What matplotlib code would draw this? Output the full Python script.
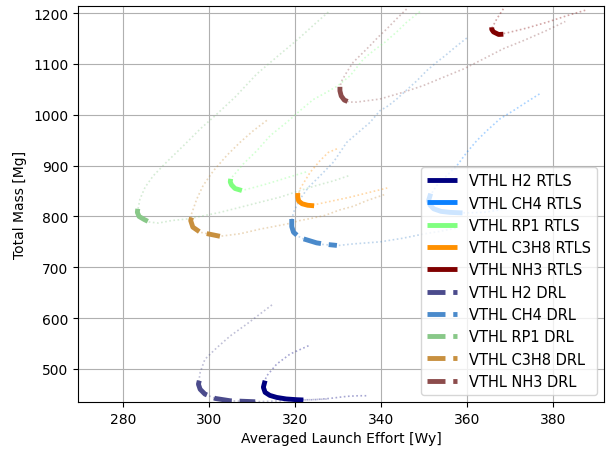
import matplotlib
matplotlib.use('Agg')
import matplotlib.pyplot as plt

# faint part of each trade curve (upper branch -> vertex -> lower branch)
h2_rtls_fx = [323.2, 318.9, 315.8, 313.5, 312.8, 312.6, 313.1, 315.8, 320.5, 324.3, 328.2, 332.1, 334.8, 337.1]
h2_rtls_fy = [545.7, 529.3, 509.6, 486.6, 472, 464, 454, 444.1, 439.4, 439.4, 442.1, 446.1, 447.3, 447.3]
h2_rtls_tx = [313.1, 312.7, 313.1, 314.2, 315.8, 318, 320.5, 322]
h2_rtls_ty = [477, 464, 454, 448, 444, 441, 439.5, 439]

h2_drl_fx = [314.7, 311.9, 308.8, 305, 301.9, 299.1, 298, 297.6, 298, 299.1, 301.5, 305, 310.4, 316, 322, 328]
h2_drl_fy = [626, 608, 588, 565, 542, 519, 493, 470, 460, 450.6, 442, 437.4, 435.5, 437, 439, 441]
h2_drl_tx = [297.8, 297.6, 298, 299.1, 301.5, 305, 310.8]
h2_drl_ty = [477, 470, 460, 450.6, 442, 437.4, 435.5]

ch4_rtls_fx = [376.9, 373.9, 370.8, 367.7, 364.7, 362.3, 360, 357.7, 355.3, 353, 351.8, 351.1, 352.3, 356.1, 360, 363.9, 367, 370.1]
ch4_rtls_fy = [1041, 1025, 1008, 992, 969, 949, 926, 900, 880, 861, 845, 831, 815, 808, 807, 808, 812, 818]
ch4_rtls_tx = [351.6, 351.1, 351.5, 352.3, 354, 356.1, 359]
ch4_rtls_ty = [845, 831, 822, 815, 810, 808, 807]

ch4_drl_fx = [360, 357.3, 355, 353, 350.7, 348.4, 343.7, 341.8, 339.8, 337.5, 332.1, 329, 325.9, 323.2, 321.2,
              319.7, 319.3, 319.7, 320.8, 322, 325.1, 329.8, 333.6, 339.8, 345, 350, 354, 358]
ch4_drl_fy = [1151, 1133, 1116.5, 1103.5, 1087, 1067, 1031, 1018, 1008, 985, 946, 907, 880, 857.5, 834,
              808, 792, 769, 761, 756, 746, 742.6, 746, 750, 757, 765.6, 771, 778]
ch4_drl_tx = [319.3, 319.3, 319.7, 320.8, 322, 325.1, 327.4, 329.8]
ch4_drl_ty = [795, 780, 769, 761, 756, 748, 745, 743]

rp1_rtls_fx = [349.1, 346, 343.7, 341, 338.3, 336, 332.9, 329.8, 326.7, 324.3, 321.2, 318.1, 314.3, 311.2, 308,
               306.1, 305.1, 305.3, 306.1, 307.7, 310.5, 313.5, 318.1, 322.8]
rp1_rtls_fy = [1203, 1182, 1163, 1143, 1126, 1110, 1077, 1056, 1041, 1030, 1008, 985, 959, 929.5, 903,
               884, 874, 862, 855, 851, 857, 864, 876, 888]
rp1_rtls_tx = [305.1, 305.0, 305.3, 306.1, 307.7]
rp1_rtls_ty = [874, 868, 862, 855, 851]

rp1_drl_fx = [327.8, 325.1, 320.8, 316.2, 311.2, 306.1, 301.5, 298, 294.1, 290.2, 287.1, 285.2, 284, 283.4, 283.8,
              285, 286.2, 288.3, 291.4, 294.9, 298, 302.6, 307.3, 311.9, 316.6, 321.2, 325.1, 329, 332.5]
rp1_drl_fy = [1202, 1182, 1149, 1116.5, 1080.5, 1034.6, 998.4, 972, 939, 907, 880, 857.5, 834, 808, 800,
              794, 789, 787, 792, 795, 800, 808, 818, 828, 838, 851, 861, 870, 880]
rp1_drl_tx = [283.5, 283.4, 283.8, 285, 286.2]
rp1_drl_ty = [815, 808, 800, 794, 789]

c3h8_rtls_fx = [329.8, 327.8, 325.9, 323.6, 321.2, 320.7, 320.9, 321.7, 324, 329, 332.9, 336.7, 341.5]
c3h8_rtls_fy = [933, 926, 910, 887, 854, 838, 830.5, 825, 822, 831, 838, 846, 856]
c3h8_rtls_tx = [320.7, 320.7, 320.9, 321.7, 323, 324.5]
c3h8_rtls_ty = [846, 838, 830.5, 825, 822, 821]

c3h8_drl_fx = [313.5, 310.4, 307.3, 304.2, 301.1, 298.7, 297.2, 296, 295.8, 296.3, 298, 299.7, 302.6, 307.3,
               311.9, 318.1, 321.2, 324.3, 327, 330.5, 333.6, 336.7, 339.8, 341.2]
c3h8_drl_fy = [989, 969, 946, 920, 890, 861, 834, 805, 792, 779, 769, 766, 761, 766,
               775, 785, 792, 797, 802, 813, 820, 831, 840, 844]
c3h8_drl_tx = [296, 295.8, 296.3, 298, 299.7, 302.6]
c3h8_drl_ty = [798, 792, 779, 769, 766, 761]

nh3_rtls_fx = [368.5, 367, 365.8, 366.2, 367.4, 369.3, 373.9, 378.6, 383.3, 387.9]
nh3_rtls_fy = [1208.5, 1189, 1170, 1163, 1158, 1161, 1170.5, 1182, 1195, 1206.5]
nh3_rtls_tx = [365.8, 365.8, 366.2, 367.4, 368.5]
nh3_rtls_ty = [1172, 1168, 1163, 1158, 1158.5]

nh3_drl_fx = [346, 343.7, 341.4, 339.4, 337.5, 335.6, 333.6, 332.1, 330.8, 330.5, 330.8, 331.5, 332.6, 334.4,
              339.8, 345.3, 349.9, 354.6, 359.2, 363.9, 368.5, 373.2, 378.6, 382.9]
nh3_drl_fy = [1208, 1189, 1169, 1153, 1136, 1120, 1103.5, 1084, 1065, 1051, 1037, 1029, 1025, 1025,
              1031, 1044.5, 1057.5, 1074, 1090, 1110, 1130, 1146, 1166, 1183.5]
nh3_drl_tx = [330.5, 330.5, 330.8, 331.5, 332.6]
nh3_drl_ty = [1055, 1047, 1037, 1029, 1025]

rtls = [
    ('VTHL H2 RTLS', '#000080', h2_rtls_fx, h2_rtls_fy, h2_rtls_tx, h2_rtls_ty),
    ('VTHL CH4 RTLS', '#0a80ff', ch4_rtls_fx, ch4_rtls_fy, ch4_rtls_tx, ch4_rtls_ty),
    ('VTHL RP1 RTLS', '#80ff80', rp1_rtls_fx, rp1_rtls_fy, rp1_rtls_tx, rp1_rtls_ty),
    ('VTHL C3H8 RTLS', '#ff9000', c3h8_rtls_fx, c3h8_rtls_fy, c3h8_rtls_tx, c3h8_rtls_ty),
    ('VTHL NH3 RTLS', '#800000', nh3_rtls_fx, nh3_rtls_fy, nh3_rtls_tx, nh3_rtls_ty),
]
drl = [
    ('VTHL H2 DRL', '#4b4b8c', h2_drl_fx, h2_drl_fy, h2_drl_tx, h2_drl_ty),
    ('VTHL CH4 DRL', '#4a8acb', ch4_drl_fx, ch4_drl_fy, ch4_drl_tx, ch4_drl_ty),
    ('VTHL RP1 DRL', '#88c888', rp1_drl_fx, rp1_drl_fy, rp1_drl_tx, rp1_drl_ty),
    ('VTHL C3H8 DRL', '#c8903f', c3h8_drl_fx, c3h8_drl_fy, c3h8_drl_tx, c3h8_drl_ty),
    ('VTHL NH3 DRL', '#8c4c4c', nh3_drl_fx, nh3_drl_fy, nh3_drl_tx, nh3_drl_ty),
]

fig = plt.figure(figsize=(6.06, 4.52), dpi=100)
ax = fig.add_axes([78 / 606, 1 - 403 / 452, 526 / 606, 396 / 452])

for name, c, fx, fy, tx, ty in rtls + drl:
    ax.plot(fx, fy, ls=(0, (1, 1.5)), lw=1.2, color=c, alpha=0.35)

for name, c, fx, fy, tx, ty in rtls:
    ax.plot(tx, ty, '-', lw=3.5, color=c, label=name, solid_capstyle='butt')
for name, c, fx, fy, tx, ty in drl:
    ax.plot(tx, ty, '--', lw=3.5, color=c, label=name)

ax.set_xlim(269.6, 391.9)
ax.set_ylim(435, 1214)
ax.set_xticks([280, 300, 320, 340, 360, 380])
ax.set_yticks([500, 600, 700, 800, 900, 1000, 1100, 1200])
ax.grid(True)
ax.set_xlabel('Averaged Launch Effort [Wy]')
ax.set_ylabel('Total Mass [Mg]')
ax.legend(loc='lower right', fontsize=10.5, handlelength=2.1)

plt.savefig('out.png', dpi=100)
